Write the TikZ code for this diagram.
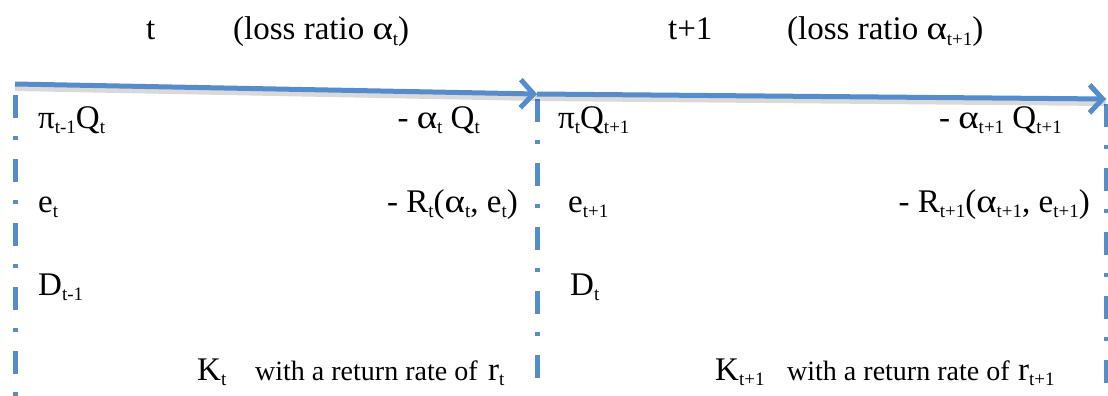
\documentclass[tikz,border=0pt]{standalone}
\usepackage{fontspec}
\setmainfont{Liberation Serif}
\usetikzlibrary{arrows.meta}
\definecolor{lineblue}{RGB}{84,140,204}
\newcommand\lsub[1]{\raisebox{-0.35ex}{\fontsize{19}{19}\selectfont #1}}
\newcommand\alp{\scalebox{1.18}[1]{α}}
\newcommand\wordfont{\fontsize{28}{32}\selectfont}
\begin{document}
\begin{tikzpicture}[x=1pt,y=-1pt,
  lbl/.style={inner sep=0pt, font=\fontsize{33}{38}\selectfont},
  lft/.style={lbl, anchor=base west},
  rgt/.style={lbl, anchor=base east},
  timeline/.style={line width=5pt, lineblue, -{Straight Barb[length=13pt,width=28pt]}},
  shadowline/.style={line width=8pt, black, opacity=0.15},
  sepline/.style={line width=5pt, lineblue, dash pattern=on 23pt off 18pt on 4pt off 19pt}]
\useasboundingbox (0,0) rectangle (1108,396);
% coordinates
\coordinate (a0) at (15,84);
\coordinate (a1) at (537,94);
\coordinate (a2) at (1106,99);
\coordinate (l0) at (15,95);
\coordinate (l1) at (15,396);
\coordinate (m0) at (537,99);
\coordinate (m1) at (537,396);
\coordinate (r0) at (1106,104);
\coordinate (r1) at (1106,396);
% separators
\draw[sepline] (l0) -- (l1);
\draw[sepline] (m0) -- (m1);
\draw[sepline] (r0) -- (r1);
% shadows
\draw[shadowline] ([yshift=-3pt]a0) -- ([yshift=-3pt]a1);
\draw[shadowline] ([yshift=-3pt]a1) -- ([yshift=-3pt]a2);
% time arrows
\draw[timeline] (a0) -- (a1);
\draw[timeline] (a1) -- (a2);
% headers
\node[lft] (h1) at (146,40) {t};
\node[lft] (h2) at (233,40) {(loss ratio \alp\lsub{t})};
\node[lft] (h3) at (668,40) {t+1};
\node[lft] (h4) at (787,40) {(loss ratio \alp\lsub{t+1})};
% period t
\node[lft] (p1) at (38,128) {π\lsub{t-1}Q\lsub{t}};
\node[rgt] (c1) at (480,128) {- \alp\lsub{t} Q\lsub{t}};
\node[lft] (e1) at (38,212) {e\lsub{t}};
\node[rgt] (r1t) at (518,212) {- R\lsub{t}(\alp\lsub{t}, e\lsub{t})};
\node[lft] (d1) at (38,295) {D\lsub{t-1}};
\node[lft] (k1) at (197,380) {K\lsub{t}};
\node[lft, font=\wordfont] (w1) at (255,380) {with a return rate of};
\node[lft] (q1) at (488,380) {r\lsub{t}};
% period t+1
\node[lft] (p2) at (558,128) {π\lsub{t}Q\lsub{t+1}};
\node[rgt] (c2) at (1062,128) {- \alp\lsub{t+1} Q\lsub{t+1}};
\node[lft] (e2) at (568,212) {e\lsub{t+1}};
\node[rgt] (r2t) at (1090,212) {- R\lsub{t+1}(\alp\lsub{t+1}, e\lsub{t+1})};
\node[lft] (d2) at (570,295) {D\lsub{t}};
\node[lft] (k2) at (715,380) {K\lsub{t+1}};
\node[lft, font=\wordfont] (w2) at (787,380) {with a return rate of};
\node[lft] (q2) at (1018,380) {r\lsub{t+1}};
\end{tikzpicture}
\end{document}
